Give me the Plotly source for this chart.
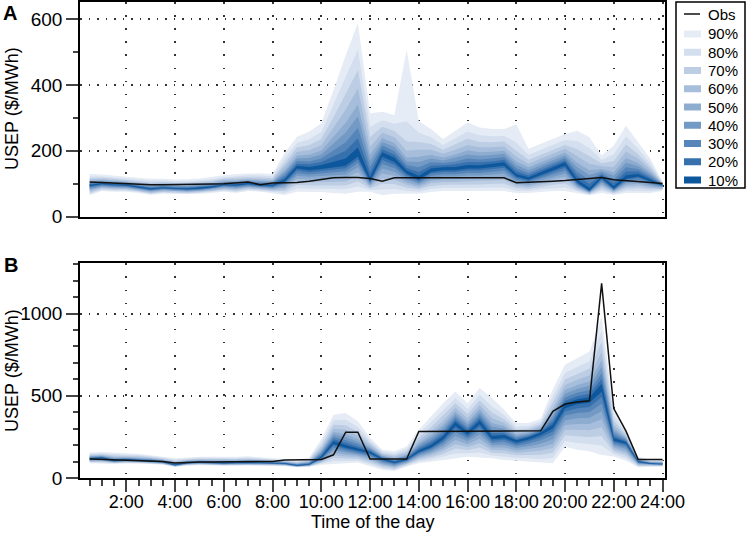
import plotly.graph_objects as go

# Half-hourly periods, 0:30 .. 24:00 (in hours)
half_hours = [h / 2 for h in range(1, 49)]
tick_hours = [2, 4, 6, 8, 10, 12, 14, 16, 18, 20, 22, 24]
tick_labels = ["2:00", "4:00", "6:00", "8:00", "10:00", "12:00",
               "14:00", "16:00", "18:00", "20:00", "22:00", "24:00"]

levels = ["90%", "80%", "70%", "60%", "50%", "40%", "30%", "20%", "10%"]
band_colours = ["#e6ecf5", "#d3deee", "#bccde4", "#a6bedb", "#8eacd0",
                "#7399c5", "#5685b9", "#3670ad", "#0d579c"]

# ---- Panel A ----
a_obs = [105, 103, 101, 100, 98, 97, 97, 97, 97, 98, 99, 100, 103, 105, 97, 102,
         103, 104, 108, 113, 118, 119, 119, 116, 108, 118, 118, 118, 118, 118, 118, 118,
         118, 118, 118, 103, 104, 106, 108, 110, 113, 118, 119, 112, 110, 106, 104, 101]

a_lo10 = [93, 99, 96, 95, 89, 83, 87, 85, 83, 85, 89, 96, 95, 99, 95, 94, 107, 146, 141, 145, 150, 155, 183, 108,
          182, 166, 131, 112, 136, 141, 141, 146, 146, 150, 155, 122, 112, 127, 141, 155, 103, 79, 117, 85, 115, 122, 108, 95]
a_lo20 = [91, 97, 94, 93, 87, 81, 85, 84, 82, 84, 87, 94, 93, 97, 93, 92, 104, 140, 135, 139, 143, 147, 174, 105,
          172, 158, 126, 109, 131, 136, 136, 140, 140, 144, 149, 118, 109, 122, 136, 149, 100, 78, 113, 83, 112, 118, 105, 93]
a_lo30 = [88, 95, 92, 91, 86, 80, 84, 82, 80, 82, 86, 92, 90, 95, 91, 89, 99, 132, 128, 132, 135, 138, 163, 102,
          160, 148, 119, 104, 124, 129, 129, 133, 133, 137, 140, 112, 105, 117, 129, 140, 97, 76, 108, 81, 107, 112, 101, 92]
a_lo40 = [84, 92, 90, 89, 84, 78, 82, 80, 78, 80, 84, 90, 88, 92, 89, 87, 95, 124, 121, 124, 126, 128, 150, 98,
          146, 136, 112, 99, 117, 122, 122, 125, 125, 128, 131, 106, 100, 111, 122, 131, 93, 75, 103, 79, 102, 106, 97, 90]
a_lo50 = [81, 90, 87, 87, 82, 76, 80, 78, 76, 78, 82, 87, 85, 90, 87, 84, 89, 115, 113, 115, 116, 118, 136, 94,
          131, 124, 104, 94, 109, 114, 114, 116, 116, 119, 121, 100, 95, 104, 114, 121, 89, 73, 97, 77, 96, 100, 92, 88]
a_lo60 = [77, 87, 85, 84, 79, 73, 77, 77, 75, 77, 79, 85, 82, 87, 84, 81, 84, 106, 104, 106, 106, 107, 123, 90,
          116, 112, 97, 88, 102, 105, 105, 108, 108, 110, 112, 94, 90, 98, 105, 112, 86, 71, 92, 74, 91, 94, 88, 85]
a_lo70 = [73, 84, 82, 82, 77, 71, 75, 74, 72, 74, 77, 82, 79, 84, 82, 78, 78, 97, 95, 96, 95, 95, 108, 86,
          100, 99, 88, 83, 93, 97, 97, 98, 98, 100, 101, 87, 84, 90, 97, 101, 81, 69, 85, 72, 85, 87, 83, 83]
a_lo80 = [69, 81, 79, 79, 75, 69, 73, 72, 70, 72, 75, 79, 75, 81, 79, 75, 72, 86, 86, 85, 84, 83, 92, 81,
          82, 84, 79, 76, 84, 87, 87, 88, 88, 89, 89, 79, 78, 83, 87, 89, 77, 67, 79, 69, 78, 79, 77, 81]
a_lo90 = [65, 78, 76, 76, 72, 66, 70, 70, 68, 70, 72, 76, 72, 78, 76, 72, 66, 76, 76, 75, 72, 70, 76, 76,
          65, 70, 70, 70, 75, 78, 78, 78, 78, 78, 78, 72, 72, 75, 78, 78, 72, 65, 72, 66, 72, 72, 72, 78]

a_hi10 = [97, 101, 98, 97, 91, 86, 89, 87, 86, 88, 92, 98, 98, 102, 98, 97, 114, 155, 151, 157, 167, 177, 210, 120,
          196, 179, 140, 124, 146, 150, 151, 157, 156, 161, 165, 130, 120, 135, 150, 165, 113, 88, 123, 93, 126, 130, 113, 97]
a_hi20 = [99, 103, 100, 99, 93, 88, 91, 89, 88, 90, 94, 100, 100, 104, 100, 99, 120, 161, 159, 166, 183, 200, 238, 134,
          205, 188, 148, 136, 155, 156, 159, 166, 165, 168, 173, 138, 126, 141, 156, 171, 124, 99, 128, 102, 137, 137, 118, 97]
a_hi30 = [102, 106, 103, 101, 96, 90, 93, 91, 90, 92, 96, 103, 103, 106, 103, 102, 127, 169, 168, 177, 201, 226, 270, 151,
          216, 199, 157, 150, 165, 163, 168, 177, 174, 177, 181, 147, 133, 148, 163, 178, 136, 112, 133, 112, 150, 145, 123, 98]
a_hi40 = [105, 108, 105, 104, 98, 93, 96, 94, 93, 95, 99, 105, 106, 109, 106, 105, 135, 177, 178, 189, 222, 256, 305, 169,
          227, 212, 168, 166, 177, 171, 179, 189, 185, 187, 191, 157, 141, 156, 171, 186, 150, 127, 139, 124, 164, 154, 129, 99]
a_hi50 = [108, 111, 108, 106, 101, 96, 98, 96, 95, 97, 101, 108, 109, 112, 110, 108, 142, 185, 188, 201, 242, 285, 341, 188,
          239, 224, 180, 182, 188, 180, 189, 202, 196, 197, 200, 168, 150, 165, 180, 195, 164, 141, 145, 135, 178, 163, 135, 100]
a_hi60 = [113, 114, 111, 109, 104, 100, 102, 100, 99, 101, 105, 112, 113, 116, 114, 113, 153, 197, 202, 217, 270, 325, 389, 212,
          255, 241, 200, 203, 203, 191, 203, 218, 211, 211, 213, 182, 161, 176, 191, 206, 183, 161, 153, 151, 197, 176, 143, 101]
a_hi70 = [117, 118, 115, 113, 108, 104, 105, 103, 103, 105, 109, 116, 118, 120, 119, 117, 164, 210, 217, 236, 302, 371, 445, 241,
          273, 260, 228, 227, 221, 203, 219, 237, 227, 226, 228, 200, 173, 188, 203, 218, 205, 183, 162, 169, 219, 190, 152, 102]
a_hi80 = [123, 122, 119, 117, 112, 109, 110, 108, 108, 110, 114, 120, 123, 126, 125, 123, 178, 224, 235, 257, 339, 424, 508, 273,
          293, 282, 290, 255, 241, 218, 238, 259, 247, 244, 245, 225, 188, 203, 218, 233, 230, 209, 173, 190, 244, 206, 163, 104]
a_hi90 = [130, 128, 125, 122, 118, 115, 115, 113, 114, 116, 120, 126, 130, 132, 132, 130, 195, 243, 258, 284, 385, 490, 588, 314,
          319, 309, 507, 290, 266, 236, 261, 286, 271, 266, 266, 281, 206, 221, 236, 251, 261, 241, 186, 216, 276, 226, 176, 106]

# ---- Panel B ----
b_obs = [115, 113, 110, 108, 107, 104, 100, 92, 96, 97, 97, 97, 98, 99, 100, 101,
         110, 111, 111, 113, 141, 279, 279, 115, 115, 115, 115, 283, 283, 283, 283, 283,
         283, 283, 283, 283, 283, 287, 405, 450, 462, 470, 1184, 422, 285, 112, 112, 112]

b_lo10 = [116, 120, 104, 109, 107, 103, 97, 77, 91, 94, 91, 89, 91, 93, 91, 89, 87, 75, 81, 122, 207, 184, 165, 150,
          111, 92, 109, 158, 186, 235, 317, 264, 327, 236, 244, 216, 234, 262, 301, 425, 448, 457, 525, 227, 208, 98, 87, 84]
b_lo20 = [114, 117, 102, 107, 105, 101, 95, 77, 90, 93, 90, 88, 89, 91, 90, 88, 86, 74, 80, 119, 197, 176, 159, 143,
          106, 88, 106, 152, 179, 224, 301, 253, 310, 226, 233, 206, 223, 248, 283, 405, 425, 432, 493, 219, 200, 95, 85, 83]
b_lo30 = [111, 114, 100, 105, 103, 99, 94, 76, 88, 91, 88, 86, 88, 90, 88, 86, 84, 73, 79, 114, 184, 166, 152, 135,
          99, 82, 102, 145, 170, 211, 280, 239, 288, 213, 219, 195, 209, 229, 261, 380, 395, 401, 452, 209, 189, 92, 84, 81]
b_lo40 = [108, 110, 98, 102, 101, 97, 92, 74, 86, 89, 86, 84, 86, 88, 86, 85, 82, 72, 77, 109, 169, 155, 144, 126,
          92, 76, 97, 137, 160, 196, 256, 223, 265, 200, 203, 182, 193, 209, 236, 352, 363, 366, 406, 197, 176, 88, 82, 80]
b_lo50 = [105, 106, 96, 100, 99, 95, 90, 73, 84, 87, 84, 82, 84, 86, 84, 83, 80, 71, 75, 104, 154, 143, 135, 116,
          84, 70, 92, 128, 149, 180, 231, 206, 239, 185, 186, 168, 176, 187, 209, 322, 328, 328, 357, 185, 163, 84, 80, 78]
b_lo60 = [101, 102, 93, 97, 96, 93, 87, 72, 82, 85, 83, 81, 81, 83, 83, 81, 79, 70, 74, 98, 138, 131, 126, 106,
          77, 64, 87, 120, 138, 165, 206, 189, 213, 170, 169, 153, 159, 166, 182, 292, 293, 291, 308, 173, 150, 79, 77, 76]
b_lo70 = [98, 98, 91, 94, 94, 90, 85, 71, 80, 83, 80, 78, 79, 81, 80, 79, 76, 68, 72, 93, 121, 118, 116, 95,
          68, 57, 82, 110, 126, 147, 179, 170, 185, 154, 150, 138, 140, 142, 153, 260, 254, 250, 255, 160, 136, 75, 75, 74]
b_lo80 = [94, 93, 88, 91, 91, 88, 83, 69, 77, 80, 78, 76, 77, 79, 78, 77, 74, 67, 70, 86, 103, 104, 105, 84,
          59, 49, 76, 100, 113, 129, 149, 150, 155, 137, 130, 122, 120, 116, 121, 225, 213, 206, 197, 145, 120, 70, 73, 72]
b_lo90 = [90, 88, 85, 88, 88, 85, 80, 68, 75, 78, 76, 74, 74, 76, 76, 75, 72, 65, 68, 80, 85, 90, 95, 72,
          50, 42, 70, 90, 100, 110, 120, 130, 125, 120, 110, 105, 100, 91, 90, 190, 172, 162, 140, 131, 105, 65, 70, 70]

b_hi10 = [120, 124, 108, 112, 110, 106, 100, 80, 94, 97, 94, 92, 94, 96, 94, 92, 89, 78, 84, 131, 224, 200, 179, 160,
          118, 98, 116, 169, 201, 254, 340, 282, 350, 255, 261, 229, 248, 277, 326, 453, 479, 491, 572, 242, 219, 102, 89, 86]
b_hi20 = [122, 126, 111, 115, 113, 108, 102, 83, 96, 99, 97, 95, 97, 99, 96, 94, 91, 80, 87, 138, 235, 215, 191, 166,
          122, 103, 122, 178, 214, 268, 354, 295, 365, 272, 272, 236, 254, 283, 342, 470, 498, 511, 602, 255, 224, 104, 91, 88]
b_hi30 = [125, 129, 115, 118, 116, 111, 104, 86, 99, 102, 100, 98, 100, 102, 99, 96, 93, 82, 91, 147, 249, 231, 205, 173,
          126, 108, 128, 188, 228, 285, 369, 309, 381, 292, 285, 245, 261, 290, 360, 490, 519, 535, 636, 269, 231, 106, 93, 90]
b_hi40 = [129, 132, 120, 122, 120, 114, 107, 90, 102, 105, 104, 102, 103, 105, 102, 99, 96, 85, 94, 157, 264, 249, 221, 181,
          132, 114, 135, 200, 245, 304, 387, 326, 400, 313, 300, 255, 269, 298, 380, 513, 542, 561, 675, 286, 238, 109, 95, 93]
b_hi50 = [132, 136, 124, 125, 123, 118, 110, 94, 105, 108, 107, 105, 106, 108, 106, 102, 98, 88, 98, 167, 280, 268, 237, 189,
          137, 120, 142, 212, 261, 324, 404, 342, 419, 335, 315, 265, 278, 306, 401, 535, 566, 587, 713, 302, 245, 112, 97, 95]
b_hi60 = [137, 140, 130, 130, 128, 122, 114, 99, 109, 113, 112, 110, 111, 113, 110, 106, 102, 92, 104, 180, 300, 293, 258, 200,
          144, 129, 152, 228, 283, 349, 428, 364, 444, 365, 334, 279, 289, 317, 428, 565, 598, 623, 765, 324, 254, 116, 100, 98]
b_hi70 = [142, 145, 137, 136, 134, 127, 118, 105, 113, 117, 118, 116, 116, 118, 115, 110, 105, 96, 110, 195, 324, 321, 282, 213,
          151, 138, 163, 246, 308, 379, 455, 389, 472, 399, 357, 294, 301, 329, 459, 600, 634, 664, 825, 349, 265, 120, 103, 102]
b_hi80 = [148, 151, 145, 142, 140, 133, 124, 112, 118, 123, 124, 122, 122, 124, 121, 116, 110, 102, 116, 213, 351, 354, 310, 227,
          161, 149, 176, 267, 338, 413, 487, 419, 506, 437, 383, 312, 316, 343, 495, 640, 676, 710, 894, 379, 277, 125, 106, 106]
b_hi90 = [155, 158, 155, 150, 148, 140, 130, 120, 125, 130, 132, 130, 130, 132, 128, 122, 115, 108, 125, 235, 385, 395, 345, 245,
          172, 162, 192, 293, 374, 455, 526, 455, 547, 486, 415, 334, 334, 360, 540, 690, 729, 769, 980, 415, 293, 131, 111, 111]

a_bands = [(a_lo90, a_hi90), (a_lo80, a_hi80), (a_lo70, a_hi70), (a_lo60, a_hi60), (a_lo50, a_hi50),
           (a_lo40, a_hi40), (a_lo30, a_hi30), (a_lo20, a_hi20), (a_lo10, a_hi10)]
b_bands = [(b_lo90, b_hi90), (b_lo80, b_hi80), (b_lo70, b_hi70), (b_lo60, b_hi60), (b_lo50, b_hi50),
           (b_lo40, b_hi40), (b_lo30, b_hi30), (b_lo20, b_hi20), (b_lo10, b_hi10)]

FONT = "Liberation Sans, Arial, Helvetica, sans-serif"
W, H = 747, 537
ML, MR, MT, MB = 80, 82, 2, 59


def px(x):
  # pixel column -> paper x
  return (x - ML) / (W - ML - MR)


def py(y):
  # pixel row -> paper y
  return (H - MB - y) / (H - MT - MB)


fig = go.Figure()

# Fan bands, widest first so narrower ones sit on top
for bands, xa, ya in [(a_bands, "x", "y"), (b_bands, "x2", "y2")]:
  for level, colour, (lo, hi) in zip(levels, band_colours, bands):
    fig.add_trace(go.Scatter(
      x=half_hours + half_hours[::-1],
      y=lo + hi[::-1],
      fill="toself",
      fillcolor=colour,
      line=dict(width=0, color=colour),
      mode="lines",
      name=level,
      hoverinfo="skip",
      xaxis=xa, yaxis=ya
    ))

# Observed prices on top
for obs, xa, ya in [(a_obs, "x", "y"), (b_obs, "x2", "y2")]:
  fig.add_trace(go.Scatter(x=half_hours, y=obs, mode="lines", name="Obs",
                           line=dict(color="#111111", width=1.5), xaxis=xa, yaxis=ya))

frame = dict(showline=True, linecolor="black", linewidth=1.5, mirror=True, zeroline=False)
xgrid = dict(showgrid=True, gridcolor="#333333", gridwidth=1.5, griddash="1.5px,11.6px")
ygrid = dict(showgrid=True, gridcolor="#333333", gridwidth=1.5, griddash="1.5px,7px")
xtickfont = dict(size=18)
ytickfont = dict(size=19)

fig.update_layout(
  width=W, height=H,
  margin=dict(l=ML, r=MR, t=MT, b=MB, autoexpand=False),
  paper_bgcolor="white", plot_bgcolor="white",
  font=dict(family=FONT, size=18, color="black"),
  showlegend=False,
  xaxis=dict(domain=[0, 1], anchor="y", range=[0.1, 24.1], tickmode="array",
             tickvals=tick_hours, showticklabels=False, ticks="", **frame, **xgrid),
  yaxis=dict(domain=[py(216.7), 1.0], anchor="x", range=[0, 652], tickmode="linear",
             tick0=0, dtick=200, ticks="outside", ticklen=12, tickwidth=1.5, tickfont=ytickfont,
             minor=dict(dtick=100, ticklen=5, tickwidth=1.5, ticks="outside", showgrid=False),
             **frame, **ygrid),
  xaxis2=dict(domain=[0, 1], anchor="y2", range=[0.1, 24.1], tickmode="array",
              tickvals=tick_hours, ticktext=tick_labels, ticks="outside", ticklen=12,
              tickwidth=1.5, tickfont=xtickfont, ticklabelstandoff=-5,
              minor=dict(tickmode="array", tickvals=half_hours, ticklen=6, tickwidth=1.5,
                         ticks="outside", showgrid=False),
              **frame, **xgrid),
  yaxis2=dict(domain=[0, py(263.3)], anchor="x2", range=[0, 1306], tickmode="linear",
              tick0=0, dtick=500, ticks="outside", ticklen=12, tickwidth=1.5, tickfont=ytickfont,
              minor=dict(dtick=100, ticklen=5, tickwidth=1.5, ticks="outside", showgrid=False),
              **frame, **ygrid),
)

# Panel letters, axis titles
fig.add_annotation(text="<b>A</b>", x=px(10), y=py(13), xref="paper", yref="paper",
                   showarrow=False, font=dict(size=20), xanchor="center", yanchor="middle")
fig.add_annotation(text="<b>B</b>", x=px(11), y=py(265), xref="paper", yref="paper",
                   showarrow=False, font=dict(size=20), xanchor="center", yanchor="middle")
for yc in [109, 371]:
  fig.add_annotation(text="USEP ($/MWh)", x=px(12), y=py(yc), xref="paper", yref="paper",
                     showarrow=False, textangle=-90, font=dict(size=18),
                     xanchor="center", yanchor="middle")
fig.add_annotation(text="Time of the day", x=0.5, y=py(522), xref="paper", yref="paper",
                   showarrow=False, font=dict(size=18), xanchor="center", yanchor="middle")

# Legend box drawn by hand so its rows match the reference spacing
fig.add_shape(type="rect", xref="paper", yref="paper", x0=px(676), x1=px(745),
              y0=py(188), y1=py(2), line=dict(color="black", width=1.5), fillcolor="white")
fig.add_shape(type="line", xref="paper", yref="paper", x0=px(684), x1=px(700),
              y0=py(14), y1=py(14), line=dict(color="#111111", width=1.5))
fig.add_annotation(text="Obs", x=px(706), y=py(14), xref="paper", yref="paper",
                   showarrow=False, font=dict(size=15), xanchor="left", yanchor="middle")
for i, (level, colour) in enumerate(zip(levels, band_colours)):
  yc = 34 + 18.25 * i
  fig.add_shape(type="rect", xref="paper", yref="paper", x0=px(684), x1=px(701),
                y0=py(yc + 3.5), y1=py(yc - 3.5), line=dict(width=0), fillcolor=colour)
  fig.add_annotation(text=level, x=px(706), y=py(yc), xref="paper", yref="paper",
                     showarrow=False, font=dict(size=15), xanchor="left", yanchor="middle")

fig.write_html("out.html", config={"displayModeBar": False},
               post_script="document.body.style.margin='0px';")
